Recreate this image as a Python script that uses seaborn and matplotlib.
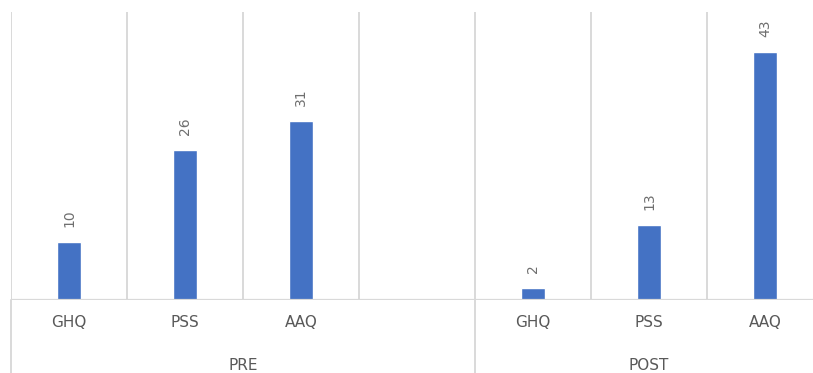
import matplotlib
matplotlib.use("Agg")
import matplotlib.pyplot as plt
import matplotlib.transforms as mtransforms
import seaborn as sns
import pandas as pd

# Scores by measure, before and after
groups = ["PRE", "PRE", "PRE", "POST", "POST", "POST"]
measures = ["GHQ", "PSS", "AAQ", "GHQ", "PSS", "AAQ"]
values = [10, 26, 31, 2, 13, 43]

group_names = ["PRE", "POST"]

sns.set_theme(style="white")
plt.rcParams["font.family"] = ["DejaVu Sans"]

df = pd.DataFrame({"group": groups, "measure": measures, "value": values})
df["slot"] = df["group"] + " " + df["measure"]

# PRE occupies four slots (the last one empty), POST three
order = [f"PRE {m}" for m in measures[:3]] + ["PRE gap"] + [f"POST {m}" for m in measures[3:]]
slot_labels = measures[:3] + [""] + measures[3:]

W, H = 813, 373
fig = plt.figure(figsize=(W / 100, H / 100), dpi=100)
left, base, top = 11, 300, 12
ax = fig.add_axes([left / W, (H - base) / H, 1 - left / W, (base - top) / H])

sns.barplot(data=df, x="slot", y="value", order=order, color="#4472C4",
            width=0.2, saturation=1, ax=ax)

slot_px = 116
ax.set_xlim(-0.5, -0.5 + (W - left) / slot_px)
ax.set_ylim(0, 50)

text_col = "#595959"
label_col = "#6f6f6f"
grid_col = "#d9d9d9"

for cont in ax.containers:
    ax.bar_label(cont, rotation=90, padding=11, color=label_col, fontsize=10)

# category separators inside the plot
for b in range(len(order) + 1):
    ax.axvline(b - 0.5, color=grid_col, lw=1.4, zorder=0)
ax.axhline(0, color=grid_col, lw=1.6, zorder=3)

for s in ax.spines.values():
    s.set_visible(False)
ax.set_yticks([])
ax.set_xticks(range(len(order)))
ax.set_xticklabels(slot_labels, color=text_col, fontsize=11)
ax.tick_params(axis="x", length=0, pad=11)
ax.set_xlabel("")
ax.set_ylabel("")

# group labels and group dividers below the axis
trans = mtransforms.blended_transform_factory(ax.transData, fig.transFigure)
spans = [(-0.5, 3.5), (3.5, 6.5)]
for name, (a, b) in zip(group_names, spans):
    fig.text((a + b) / 2, (H - 365) / H, name, transform=trans, ha="center",
             va="center", color=text_col, fontsize=11)
for xd in (-0.5, 3.5):
    fig.add_artist(plt.Line2D([xd, xd], [0, (H - base) / H], transform=trans,
                              color=grid_col, lw=1.4))

fig.savefig("out.png", dpi=100)
